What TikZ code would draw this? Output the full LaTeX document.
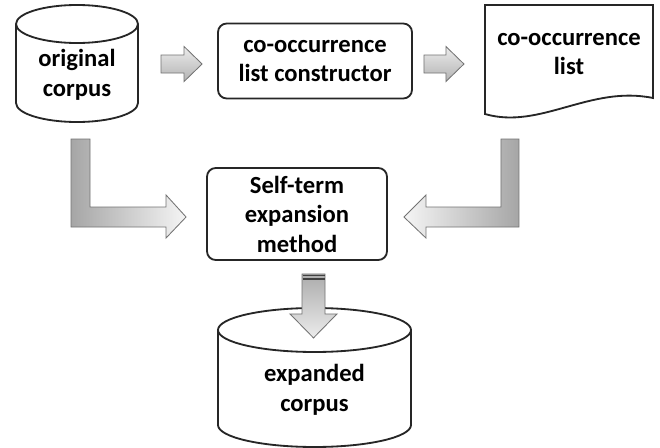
\documentclass[tikz,border=0pt]{standalone}
\usepackage{fontspec}
\setmainfont{Carlito}
\usepackage{tikz}
\usetikzlibrary{calc}
\newcommand{\boxfont}{\fontsize{17.5}{21}\selectfont\bfseries}

\begin{document}
\begin{tikzpicture}[
        x=0.025cm, y=-0.025cm,
        outline/.style={
            draw=black!85,
            line width=1.3pt
        },
        procbox/.style={
            outline,
            rounded corners=0.22cm,
            align=center,
            font=\boxfont,
            inner sep=0pt
        },
        txt/.style={
            align=center,
            font=\boxfont,
            inner sep=0pt
        },
        blockarrow/.style={
            draw=black!55,
            line width=0.6pt,
            line join=miter
        }
    ]
        \useasboundingbox[fill=white] (0,0) rectangle (660,448);

        % original corpus
        \draw[outline, fill=white] (16,24) -- (16,103)
            arc[start angle=180, end angle=0, x radius=61, y radius=19] -- (138,24);
        \draw[outline] (77,24) ellipse[x radius=61, y radius=19];
        \node[txt] (corpus) at (77,75) {original\\corpus};

        % list constructor
        \node[procbox, minimum width=4.85cm, minimum height=1.875cm] (builder) at (315,61)
            {co-occurrence\\list constructor};

        % co-occurrence list (document)
        \draw[outline, fill=white] (485,5) -- (653,5) -- (653,98)
            .. controls (590,85) and (540,130) .. (485,114) -- cycle;
        \node[txt] (clist) at (569,54) {co-occurrence\\list};

        % expansion method
        \node[procbox, minimum width=4.5cm, minimum height=2.3cm] (expansion) at (297,214)
            {Self-term\\expansion\\method};

        % expanded corpus
        \draw[outline, fill=white] (218,330) -- (218,425)
            arc[start angle=180, end angle=0, x radius=96.5, y radius=22] -- (411,330);
        \draw[outline] (314.5,330) ellipse[x radius=96.5, y radius=22];
        \node[txt] (expanded) at (314.5,390) {expanded\\corpus};

        % straight arrows
        \path[blockarrow, top color=gray!15, bottom color=gray!60]
            ($(builder.west)+(-15,3)$) -- ++(-18,-17.5) -- ++(0,8.5) -- ++(-23,0)
            -- ++(0,18) -- ++(23,0) -- ++(0,8.5) -- cycle;
        \path[blockarrow, top color=gray!15, bottom color=gray!60]
            ($(builder.east)+(51,3)$) -- ++(-18,-17.5) -- ++(0,8.5) -- ++(-22,0)
            -- ++(0,18) -- ++(22,0) -- ++(0,8.5) -- cycle;

        % bent arrows into the expansion method
        \path[blockarrow, left color=gray!70, right color=gray!8]
            ($(expansion.west)+(-20,3)$) -- ++(-20,21) -- ++(0,-11) -- ++(-95,0)
            -- ++(0,-88) -- ++(19,0) -- ++(0,68) -- ++(76,0) -- ++(0,-12) -- cycle;
        \path[blockarrow, left color=gray!8, right color=gray!70]
            ($(expansion.east)+(16,3)$) -- ++(22,-22) -- ++(0,12) -- ++(75,0)
            -- ++(0,-68) -- ++(18,0) -- ++(0,88) -- ++(-93,0) -- ++(0,11) -- cycle;

        % down arrow
        \path[blockarrow, top color=gray!65, bottom color=gray!15]
            ($(expansion.south)+(5,13)$) -- ++(23,0) -- ++(0,40) -- ++(12,0)
            -- ++(-23.5,24) -- ++(-23.5,-24) -- ++(12,0) -- cycle;
        \draw[black!75, line width=1pt] (302.5,275.5) -- (324.5,275.5);
        \draw[black!75, line width=1pt] (302.5,279) -- (324.5,279);
    \end{tikzpicture}
\end{document}
